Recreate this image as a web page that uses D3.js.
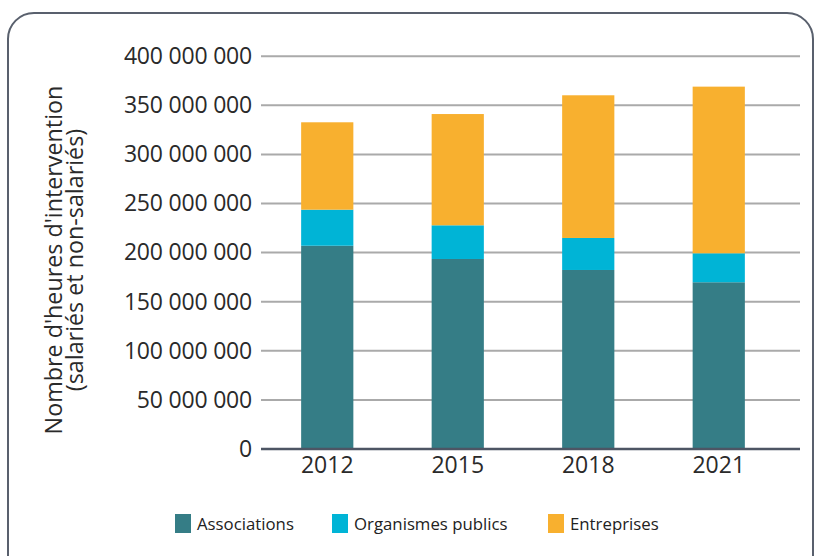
<!DOCTYPE html>
<html>
<head>
<meta charset="utf-8">
<script src="https://cdn.jsdelivr.net/npm/d3@7"></script>
<style>
body{margin:0;background:#fff}
text{font-family:"Open Sans",sans-serif;fill:#222}
</style>
</head>
<body>
<svg></svg>
<script>
var years=["2012","2015","2018","2021"]
var associations=[207000000,193500000,182300000,169800000]
var organismes=[36700000,34300000,32600000,29500000]
var entreprises=[89000000,113300000,145300000,169700000]
var seriesNames=["Associations","Organismes publics","Entreprises"]
var yTicks=[0,50000000,100000000,150000000,200000000,250000000,300000000,350000000,400000000]

var screen={width:821,height:556}
var colors=["#357d86","#00b4d6","#f8b02f"]

var svg=d3.select("svg")
.attr("width",screen.width)
.attr("height",screen.height)

svg.append("rect")
.attr("x",8).attr("y",13)
.attr("width",805).attr("height",570)
.attr("rx",26)
.attr("fill","none")
.attr("stroke","#59606d")
.attr("stroke-width",2)

var rows=years.map(function(y,i){
    return {year:y,Associations:associations[i],"Organismes publics":organismes[i],Entreprises:entreprises[i]}
})
var stacked=d3.stack().keys(seriesNames)(rows)

var xScale=d3.scaleBand()
.domain(years)
.range([262,784])
.paddingInner(0.6)
.paddingOuter(0.3)

var yScale=d3.scaleLinear()
.domain([0,400000000])
.range([449,56.2])

var fmt=function(d){return d3.format(",")(d).replace(/,/g," ")}

// grid
svg.append("g")
.selectAll("line")
.data(yTicks.slice(1))
.enter()
.append("line")
.attr("x1",261).attr("x2",800)
.attr("y1",function(d){return yScale(d)})
.attr("y2",function(d){return yScale(d)})
.attr("stroke","#aaaaaa")
.attr("stroke-width",2)

var yAxis=d3.axisLeft(yScale)
.tickValues(yTicks)
.tickFormat(fmt)
.tickSize(0)
.tickPadding(9)

svg.append("g")
.attr("transform","translate(261,0)")
.call(yAxis)
.call(function(g){g.select(".domain").remove()})
.selectAll("text")
.style("font-size","23px")
.style("letter-spacing","-0.2px")
.style("fill","#2a2a2a")

// bars
svg.append("g")
.selectAll("g")
.data(stacked)
.enter()
.append("g")
.attr("fill",function(d,i){return colors[i]})
.selectAll("rect")
.data(function(d){return d})
.enter()
.append("rect")
.attr("x",function(d){return xScale(d.data.year)})
.attr("width",xScale.bandwidth())
.attr("y",function(d){return yScale(d[1])})
.attr("height",function(d){return yScale(d[0])-yScale(d[1])})

// baseline
svg.append("line")
.attr("x1",261).attr("x2",800)
.attr("y1",yScale(0)).attr("y2",yScale(0))
.attr("stroke","#4d5564")
.attr("stroke-width",2.5)

var xAxis=d3.axisBottom(xScale).tickSize(0).tickPadding(8)
svg.append("g")
.attr("transform","translate(0,"+yScale(0)+")")
.call(xAxis)
.call(function(g){g.select(".domain").remove()})
.selectAll("text")
.style("font-size","23px")
.style("fill","#2a2a2a")

// y title
var title=svg.append("text")
.attr("transform","rotate(-90)")
.attr("text-anchor","middle")
.style("font-size","23.3px")
.style("fill","#2a2a2a")
title.append("tspan").attr("x",-260).attr("y",62).text("Nombre d'heures d'intervention")
title.append("tspan").attr("x",-260).attr("y",83).text("(salariés et non-salariés)")

// legend
var legendX=[175,332,548]
var legend=svg.append("g")
.selectAll("g")
.data(seriesNames)
.enter()
.append("g")
.attr("transform",function(d,i){return "translate("+legendX[i]+",514)"})
legend.append("rect")
.attr("width",16).attr("height",19)
.attr("fill",function(d,i){return colors[i]})
legend.append("text")
.attr("x",22).attr("y",16)
.style("font-size","16.8px")
.text(function(d){return d})
</script>
</body>
</html>
